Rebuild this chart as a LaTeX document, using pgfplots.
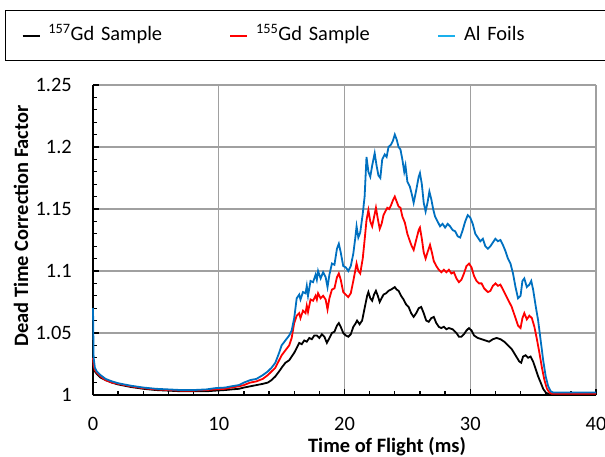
\documentclass[border=0pt]{standalone}
\usepackage{fontspec}
\setmainfont{Carlito}
\usepackage{pgfplots}
\pgfplotsset{compat=1.18}
\definecolor{cblue}{HTML}{0070C0}
\definecolor{lblue}{HTML}{1AB0EC}
\definecolor{cred}{HTML}{FF0000}
\definecolor{gridgray}{HTML}{A0A0A0}
\begin{document}
\begin{tikzpicture}
\begin{axis}[
  scale only axis, width=503bp, height=310bp,
  xmin=0, xmax=40, ymin=1, ymax=1.25,
  clip=false,
  axis lines=left,
  axis line style={-, line width=2bp, black},
  xtick={0,10,20,30,40},
  ytick={1,1.05,1.1,1.15,1.2,1.25},
  minor x tick num=4, minor y tick num=4,
  tick align=inside,
  major tick length=6bp, minor tick length=4bp,
  tick style={black, line width=1.3bp},
  grid=major,
  major grid style={gridgray, line width=1.3bp},
  font=\fontsize{20.5}{24}\selectfont,
  /pgf/number format/assume math mode=true,
  yticklabels={1,1.05,1.1,1.15,1.2,1.25},
  xticklabels={0,10,20,30,40},
  yticklabel style={inner sep=0pt, anchor=east, xshift=-21bp},
  xticklabel style={inner sep=0pt, anchor=center, yshift=-29bp},
  xlabel={\bfseries Time of Flight (ms)},
  ylabel={\bfseries Dead Time Correction Factor},
  xlabel style={at={(axis description cs:0.5845,-0.1677)}, anchor=center},
  ylabel style={at={(axis description cs:-0.1431,0.545)}, anchor=center},
  legend style={at={(axis description cs:-0.175,1.242)}, anchor=north west,
    legend columns=3, draw=black, line width=1.3bp, fill=white,
    inner xsep=16bp, inner ysep=14bp,
    nodes={inner sep=2bp, text width=130bp, text height=14bp, text depth=4bp},
    /tikz/every odd column/.append style={column sep=6bp},
    /tikz/every even column/.append style={column sep=49bp}},
  legend cell align=left,
  legend image code/.code={\draw[#1, line width=1.8bp] (0bp,0bp) -- (17bp,0bp);},
]
\addlegendimage{color=black}
\addlegendentry{\textsuperscript{157}Gd Sample}
\addlegendimage{color=cred}
\addlegendentry{\textsuperscript{155}Gd Sample}
\addlegendimage{color=lblue}
\addlegendentry{Al Foils}

% Black: 157Gd Sample
\addplot[forget plot, black, line width=1.8bp] coordinates {
(0,1.025) (0.05,1.022) (0.15,1.019) (0.3,1.017) (0.6,1.014) (1.0,1.012) (1.5,1.010)
(2.0,1.0085) (3.0,1.0065) (4.0,1.005) (5.0,1.004) (6.0,1.0035) (7.0,1.003) (8.0,1.003)
(9.0,1.003) (9.7,1.0035) (10.5,1.004) (11.0,1.0045) (11.6,1.005) (12.0,1.006) (12.5,1.007)
(13.0,1.008) (13.5,1.009) (13.9,1.010) (14.2,1.012) (14.5,1.015) (14.8,1.019) (15.0,1.022)
(15.3,1.026) (15.6,1.028) (15.8,1.031) (16.0,1.034) (16.2,1.038) (16.4,1.042) (16.6,1.041)
(16.8,1.044) (17.0,1.043) (17.2,1.046) (17.4,1.045) (17.6,1.048) (17.8,1.048) (18.0,1.046)
(18.2,1.049) (18.4,1.047) (18.6,1.042) (18.8,1.046) (19.0,1.050) (19.2,1.051) (19.4,1.056)
(19.55,1.058) (19.7,1.055) (19.9,1.050) (20.1,1.048) (20.3,1.047) (20.5,1.049) (20.7,1.055)
(20.9,1.058) (21.0,1.060) (21.2,1.057) (21.4,1.060) (21.6,1.070) (21.8,1.080) (21.9,1.083)
(22.05,1.078) (22.2,1.076) (22.35,1.081) (22.5,1.084) (22.65,1.080) (22.8,1.075) (22.95,1.078)
(23.1,1.081) (23.3,1.082) (23.5,1.084) (23.7,1.085) (23.85,1.086) (24.0,1.087) (24.15,1.085)
(24.3,1.084) (24.5,1.080) (24.7,1.077) (24.9,1.073) (25.1,1.071) (25.3,1.066) (25.5,1.063)
(25.7,1.066) (25.9,1.070) (26.1,1.071) (26.3,1.066) (26.5,1.060) (26.7,1.059) (26.9,1.062)
(27.1,1.063) (27.3,1.058) (27.5,1.055) (27.7,1.054) (27.9,1.055) (28.1,1.053) (28.3,1.054)
(28.6,1.053) (28.9,1.050) (29.1,1.047) (29.3,1.047) (29.5,1.049) (29.7,1.052) (29.9,1.054)
(30.1,1.052) (30.3,1.048) (30.6,1.046) (30.9,1.045) (31.2,1.044) (31.5,1.043) (31.8,1.045)
(32.1,1.046) (32.4,1.045) (32.7,1.043) (33.0,1.040) (33.3,1.037) (33.6,1.032) (33.9,1.027)
(34.05,1.026) (34.2,1.031) (34.4,1.032) (34.6,1.030) (34.8,1.031) (35.0,1.027) (35.2,1.021)
(35.4,1.015) (35.6,1.010) (35.8,1.005) (36.0,1.002) (36.3,1.0005) (40,1.0005)
};

% Red: 155Gd Sample
\addplot[forget plot, cred, line width=1.8bp] coordinates {
(0,1.030) (0.05,1.024) (0.15,1.020) (0.3,1.018) (0.6,1.015) (1.0,1.012) (1.5,1.010)
(2.0,1.009) (3.0,1.007) (4.0,1.0055) (5.0,1.0045) (6.0,1.004) (7.0,1.0035) (8.0,1.0035)
(9.0,1.004) (9.7,1.0045) (10.5,1.005) (11.0,1.006) (11.6,1.007) (12.0,1.008) (12.5,1.010)
(13.0,1.011) (13.5,1.013) (13.9,1.016) (14.2,1.019) (14.5,1.022) (14.8,1.028) (15.0,1.032)
(15.3,1.036) (15.6,1.040) (15.8,1.046) (16.0,1.058) (16.2,1.064) (16.4,1.066) (16.5,1.062)
(16.7,1.068) (16.9,1.066) (17.0,1.072) (17.1,1.067) (17.3,1.077) (17.5,1.076) (17.7,1.080)
(17.8,1.077) (17.9,1.082) (18.1,1.078) (18.3,1.080) (18.5,1.077) (18.65,1.069) (18.8,1.078)
(19.0,1.085) (19.2,1.086) (19.4,1.095) (19.55,1.098) (19.7,1.093) (19.9,1.083) (20.1,1.081)
(20.3,1.079) (20.5,1.082) (20.7,1.092) (20.85,1.100) (20.96,1.106) (21.1,1.100) (21.25,1.098)
(21.45,1.110) (21.6,1.125) (21.75,1.141) (21.9,1.149) (22.05,1.140) (22.2,1.136) (22.4,1.146)
(22.5,1.151) (22.65,1.142) (22.8,1.134) (22.95,1.138) (23.1,1.145) (23.25,1.148) (23.4,1.151)
(23.55,1.150) (23.7,1.153) (23.85,1.157) (24.0,1.160) (24.15,1.156) (24.3,1.152) (24.45,1.151)
(24.6,1.144) (24.8,1.139) (25.0,1.130) (25.2,1.124) (25.35,1.120) (25.5,1.117) (25.7,1.125)
(25.9,1.133) (26.0,1.135) (26.15,1.126) (26.3,1.115) (26.45,1.110) (26.6,1.115) (26.8,1.121)
(26.95,1.115) (27.1,1.108) (27.3,1.104) (27.5,1.101) (27.7,1.099) (27.9,1.101) (28.1,1.099)
(28.3,1.101) (28.5,1.098) (28.7,1.099) (28.9,1.094) (29.1,1.091) (29.3,1.093) (29.5,1.098)
(29.7,1.104) (29.9,1.106) (30.1,1.103) (30.3,1.096) (30.5,1.092) (30.7,1.090) (30.9,1.090)
(31.1,1.086) (31.4,1.083) (31.6,1.084) (31.8,1.088) (32.0,1.090) (32.2,1.088) (32.4,1.089)
(32.6,1.085) (32.8,1.081) (33.0,1.077) (33.3,1.071) (33.6,1.062) (33.8,1.056) (34.0,1.054)
(34.15,1.062) (34.3,1.066) (34.5,1.061) (34.7,1.064) (34.9,1.062) (35.1,1.055) (35.3,1.045)
(35.5,1.034) (35.7,1.022) (35.9,1.012) (36.1,1.005) (36.3,1.002) (36.5,1.001) (37.0,1.001)
(40,1.001)
};

% Blue: Al Foils
\addplot[forget plot, cblue, line width=1.8bp] coordinates {
(0,1.070) (0.05,1.030) (0.15,1.022) (0.3,1.019) (0.6,1.016) (1.0,1.013) (1.5,1.011)
(2.0,1.0095) (3.0,1.0075) (4.0,1.006) (5.0,1.005) (6.0,1.0045) (7.0,1.004) (8.0,1.004)
(9.0,1.0045) (9.7,1.0055) (10.5,1.006) (11.0,1.007) (11.6,1.008) (12.0,1.010) (12.5,1.012)
(13.0,1.013) (13.5,1.016) (13.9,1.019) (14.2,1.022) (14.5,1.026) (14.8,1.034) (15.0,1.040)
(15.3,1.044) (15.6,1.048) (15.8,1.052) (16.0,1.062) (16.2,1.078) (16.4,1.081) (16.5,1.077)
(16.7,1.083) (16.9,1.082) (17.0,1.088) (17.1,1.080) (17.3,1.092) (17.5,1.091) (17.7,1.097)
(17.8,1.093) (17.9,1.100) (18.1,1.094) (18.3,1.099) (18.5,1.095) (18.65,1.087) (18.8,1.097)
(19.0,1.106) (19.2,1.105) (19.4,1.118) (19.55,1.122) (19.7,1.115) (19.9,1.104) (20.1,1.103)
(20.3,1.100) (20.5,1.104) (20.7,1.114) (20.85,1.126) (20.96,1.136) (21.1,1.127) (21.25,1.131)
(21.45,1.146) (21.6,1.160) (21.75,1.192) (21.9,1.180) (22.05,1.176) (22.2,1.185) (22.4,1.195)
(22.55,1.185) (22.7,1.177) (22.85,1.175) (23.0,1.190) (23.2,1.194) (23.35,1.192) (23.5,1.200)
(23.7,1.202) (23.85,1.205) (24.0,1.210) (24.15,1.206) (24.3,1.200) (24.45,1.198) (24.6,1.190)
(24.75,1.180) (24.85,1.185) (25.0,1.172) (25.2,1.168) (25.35,1.162) (25.5,1.155) (25.7,1.165)
(25.9,1.176) (26.0,1.179) (26.15,1.170) (26.3,1.155) (26.45,1.148) (26.6,1.155) (26.75,1.164)
(26.9,1.158) (27.05,1.150) (27.2,1.144) (27.4,1.140) (27.6,1.136) (27.8,1.138) (28.0,1.135)
(28.2,1.138) (28.4,1.136) (28.6,1.133) (28.8,1.132) (29.0,1.128) (29.2,1.127) (29.4,1.133)
(29.6,1.140) (29.8,1.145) (30.0,1.143) (30.2,1.138) (30.4,1.130) (30.6,1.127) (30.8,1.124)
(31.0,1.126) (31.2,1.120) (31.4,1.118) (31.6,1.120) (31.8,1.123) (32.0,1.126) (32.2,1.124)
(32.4,1.125) (32.6,1.121) (32.8,1.116) (33.0,1.110) (33.2,1.106) (33.4,1.098) (33.6,1.087)
(33.8,1.078) (34.0,1.080) (34.15,1.092) (34.3,1.094) (34.5,1.087) (34.7,1.089) (34.85,1.092)
(35.0,1.085) (35.2,1.072) (35.4,1.060) (35.6,1.044) (35.8,1.028) (36.0,1.015) (36.2,1.007)
(36.4,1.003) (36.6,1.002) (37.0,1.002) (40,1.002)
};
\end{axis}
\pgfresetboundingbox
\path[use as bounding box] (current axis.south west) ++(-93bp,-62bp) rectangle ++(605bp,457bp);
\end{tikzpicture}
\end{document}
